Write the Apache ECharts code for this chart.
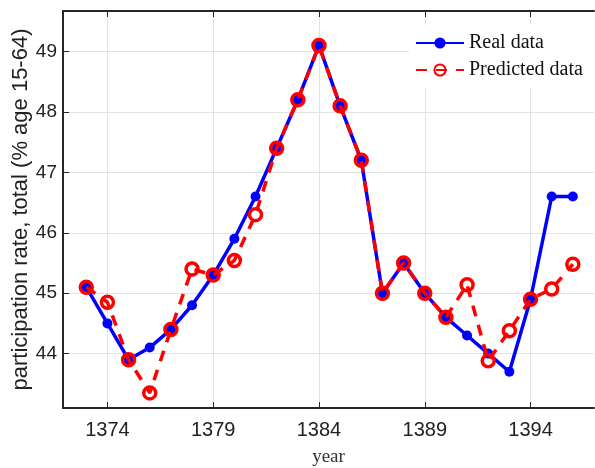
<!DOCTYPE html>
<html>
<head>
<meta charset="utf-8">
<script src="https://cdn.jsdelivr.net/npm/echarts@6/dist/echarts.min.js"></script>
<style>
  html, body { margin: 0; padding: 0; background: #fff; }
  #chart { width: 595px; height: 468px; }
</style>
</head>
<body>
<div id="chart"></div>
<script>
var years = [1373, 1374, 1375, 1376, 1377, 1378, 1379, 1380, 1381, 1382, 1383, 1384,
  1385, 1386, 1387, 1388, 1389, 1390, 1391, 1392, 1393, 1394, 1395, 1396];
var realData = [45.1, 44.5, 43.9, 44.1, 44.4, 44.8, 45.3, 45.9, 46.6, 47.4, 48.2, 49.1,
  48.1, 47.2, 45.0, 45.5, 45.0, 44.6, 44.3, 44.0, 43.7, 44.9, 46.6, 46.6];
var predictedData = [45.1, 44.85, 43.9, 43.35, 44.4, 45.4, 45.3, 45.54, 46.3, 47.4, 48.2, 49.1,
  48.1, 47.2, 45.0, 45.5, 45.0, 44.6, 45.14, 43.88, 44.38, 44.9, 45.07, 45.48];
var xTicks = [1374, 1379, 1384, 1389, 1394];
var yTicks = [44, 45, 46, 47, 48, 49];

function pairs(xs, ys) {
  return xs.map(function (x, i) { return [x, ys[i]]; });
}

var frame = "#262626";
var gridColor = "#e3e3e3";
var sans = "Liberation Sans";
var narrow = "'Liberation Sans Narrow', 'Liberation Sans'";
var serif = "Liberation Serif";

var dom = document.getElementById("chart");
var myChart = echarts.init(dom, null, { renderer: "canvas" });
var option = {
  animation: false,
  backgroundColor: "#fff",
  grid: { left: 63, right: 1, top: 11, bottom: 60, containLabel: false, outerBoundsMode: "none" },
  legend: {
    left: 409,
    top: 25,
    orient: "vertical",
    backgroundColor: "#fff",
    padding: [8, 14, 8, 6],
    itemWidth: 48,
    itemHeight: 14,
    itemGap: 7,
    textStyle: { fontFamily: serif, fontSize: 20, lineHeight: 20, color: "#111" },
    data: ["Real data", "Predicted data"],
  },
  xAxis: [
    {
      type: "value",
      min: 1371.9,
      max: 1397,
      name: "year",
      nameLocation: "middle",
      nameGap: 40,
      nameMoveOverlap: false,
      nameTextStyle: { fontFamily: serif, fontSize: 19, color: "#333" },
      axisLine: { show: true, lineStyle: { color: frame, width: 2 } },
      axisTick: { show: true, inside: true, length: 6, customValues: xTicks, lineStyle: { color: frame } },
      axisLabel: {
        customValues: xTicks,
        formatter: function (v) { return String(v); },
        fontFamily: narrow, fontSize: 20, color: "#222", margin: 12,
      },
      splitLine: { show: true, lineStyle: { color: gridColor, width: 1 } },
    },
    {
      type: "value",
      position: "top",
      min: 1371.9,
      max: 1397,
      axisLine: { show: true, lineStyle: { color: frame, width: 2 } },
      axisTick: { show: true, inside: true, length: 6, customValues: xTicks, lineStyle: { color: frame } },
      axisLabel: { show: false },
      splitLine: { show: false },
    },
  ],
  yAxis: {
    type: "value",
    min: 43.1,
    max: 49.67,
    name: "participation rate, total (% age 15-64)",
    nameLocation: "middle",
    nameGap: 31,
    nameMoveOverlap: false,
    nameTextStyle: { fontFamily: sans, fontSize: 22, color: "#222" },
    axisLine: { show: true, lineStyle: { color: frame, width: 2 } },
    axisTick: { show: true, inside: true, length: 6, customValues: yTicks, lineStyle: { color: frame } },
    axisLabel: { customValues: yTicks, fontFamily: narrow, fontSize: 19, color: "#222", margin: 6 },
    splitLine: { show: true, lineStyle: { color: gridColor, width: 1 } },
  },
  series: [
    {
      name: "Real data",
      type: "line",
      data: pairs(years, realData),
      symbol: "circle",
      symbolSize: 10,
      itemStyle: { color: "#0000ff" },
      lineStyle: { color: "#0000ff", width: 3.5 },
      z: 2,
    },
    {
      name: "Predicted data",
      type: "line",
      data: pairs(years, predictedData),
      symbol: "circle",
      symbolSize: 12,
      itemStyle: { color: "transparent", borderColor: "#ff0000", borderWidth: 3.5 },
      lineStyle: { color: "#ff0000", width: 3.5, type: [11, 9] },
      z: 3,
    },
  ],
};
myChart.setOption(option);
</script>
</body>
</html>
